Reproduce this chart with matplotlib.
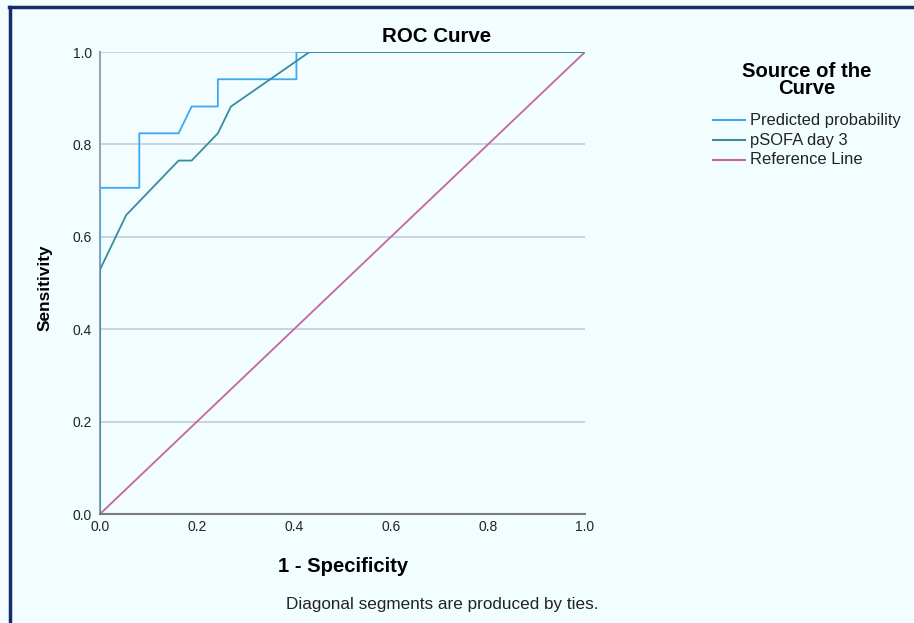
import matplotlib
matplotlib.use("Agg")
import matplotlib.pyplot as plt
from matplotlib.lines import Line2D

# ROC points (1 - specificity, sensitivity)
pred_fpr = [0.0, 0.0, 0.081, 0.081, 0.162, 0.189, 0.243, 0.243, 0.405, 0.405, 1.0]
pred_tpr = [0.0, 0.706, 0.706, 0.824, 0.824, 0.882, 0.882, 0.941, 0.941, 1.0, 1.0]

psofa_fpr = [0.0, 0.0, 0.054, 0.162, 0.189, 0.243, 0.270, 0.432, 1.0]
psofa_tpr = [0.0, 0.529, 0.647, 0.765, 0.765, 0.824, 0.882, 1.0, 1.0]

ref_x = [0.0, 1.0]
ref_y = [0.0, 1.0]

labels = ["Predicted probability", "pSOFA day 3", "Reference Line"]
colors = ["#3ea8f2", "#3a8c9c", "#c466a0"]
ticks = [0.0, 0.2, 0.4, 0.6, 0.8, 1.0]

plt.rcParams['font.family'] = ['Liberation Sans', 'DejaVu Sans']
bg = "#f2fdff"

fig = plt.figure(figsize=(9.14, 6.23), dpi=100, facecolor=bg)
ax = fig.add_axes([100/914, 1-514/623, 485/914, 462/623])
ax.set_facecolor(bg)

for y in ticks[1:]:
    ax.axhline(y, color="#c3ccdc", lw=1.2, zorder=1)

ax.plot(pred_fpr, pred_tpr, color=colors[0], lw=1.3, zorder=3)
ax.plot(psofa_fpr, psofa_tpr, color=colors[1], lw=1.3, zorder=4)
ax.plot(ref_x, ref_y, color=colors[2], lw=1.3, zorder=2)

ax.set_xlim(0, 1)
ax.set_ylim(0, 1)
ax.set_xticks(ticks)
ax.set_yticks(ticks)
ax.set_xticklabels(["%.1f" % t for t in ticks])
ax.set_yticklabels(["%.1f" % t for t in ticks])
ax.tick_params(length=0, labelsize=10, colors="#222222", pad=4)
ax.tick_params(axis='y', pad=6)
for s in ["top", "right"]:
    ax.spines[s].set_visible(False)
ax.spines["left"].set_color("#9aa3b0")
ax.spines["bottom"].set_color("#7c7c7c")
ax.spines["left"].set_linewidth(1.5)
ax.spines["bottom"].set_linewidth(1.5)

fig.text(437/914, 1-36/623, "ROC Curve", ha="center", va="center",
         fontsize=14.8, fontweight="bold")
fig.text(343/914, 1-566/623, "1 - Specificity", ha="center", va="center",
         fontsize=14.6, fontweight="bold")
fig.text(45/914, 1-288/623, "Sensitivity", ha="center", va="center",
         rotation=90, fontsize=12.4, fontweight="bold")
fig.text(442/914, 1-605/623, "Diagonal segments are produced by ties.",
         ha="center", va="center", fontsize=12.3, color="#222222")

# legend drawn by hand to sit like the original
fig.text(807/914, 1-80/623, "Source of the\nCurve", ha="center", va="center",
         fontsize=14.6, fontweight="bold", linespacing=0.9)
for i, (lab, c) in enumerate(zip(labels, colors)):
    yy = 1 - (120 + 20*i)/623
    fig.add_artist(Line2D([713/914, 745/914], [yy, yy], color=c, lw=1.5))
    fig.text(750/914, yy, lab, ha="left", va="center", fontsize=11.9, color="#222222")

# frame on the left and top edges
fig.add_artist(Line2D([10/914, 10/914], [0, 1-6.5/623], color="#142c6c", lw=2.5))
fig.add_artist(Line2D([9/914, 1], [1-6.5/623, 1-6.5/623], color="#142c6c", lw=2.5))

fig.savefig("out.png", dpi=100, facecolor=bg)
